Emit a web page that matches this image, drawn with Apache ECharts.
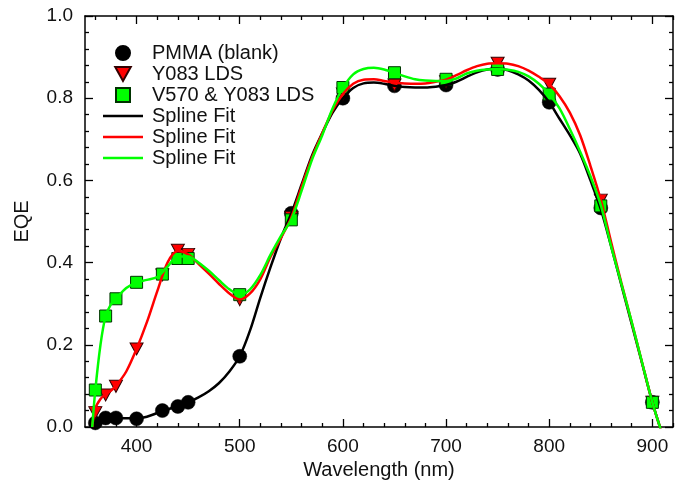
<!DOCTYPE html>
<html>
<head>
<meta charset="utf-8">
<script src="https://cdn.jsdelivr.net/npm/echarts@6/dist/echarts.min.js"></script>
<style>html,body{margin:0;padding:0;background:#fff}#c{width:683px;height:489px}</style>
</head>
<body>
<div id="c"></div>
<script>
// measured data points
const wavelengths = [360, 370, 380, 400, 425, 440, 450, 500, 550, 600, 650, 700, 750, 800, 850, 900];
const pmma = [0.01, 0.022, 0.022, 0.02, 0.04, 0.05, 0.06, 0.172, 0.52, 0.80, 0.83, 0.832, 0.87, 0.79, 0.533, 0.06];
const y083 = [0.035, 0.078, 0.099, 0.19, 0.37, 0.43, 0.42, 0.31, 0.51, 0.81, 0.832, 0.84, 0.885, 0.834, 0.552, 0.06];
const v570 = [0.09, 0.27, 0.312, 0.352, 0.372, 0.41, 0.41, 0.322, 0.504, 0.826, 0.862, 0.846, 0.87, 0.81, 0.538, 0.06];

// spline fit curves
const fitWl = [357, 360, 365, 370, 375, 380, 390, 400, 410, 420, 430, 440, 450, 460, 470, 480, 490, 500, 510, 520, 530, 540, 550, 560, 570, 580, 590, 600, 610, 620, 630, 640, 650, 660, 670, 680, 690, 700, 710, 720, 730, 740, 750, 760, 770, 780, 790, 800, 810, 820, 830, 840, 850, 860, 870, 880, 890, 900, 908];
const pmmaFit = [0, 0.01, 0.017, 0.021, 0.022, 0.022, 0.021, 0.021, 0.025, 0.034, 0.043, 0.051, 0.06, 0.072, 0.087, 0.107, 0.135, 0.172, 0.235, 0.315, 0.39, 0.46, 0.52, 0.59, 0.66, 0.715, 0.765, 0.80, 0.825, 0.836, 0.838, 0.835, 0.83, 0.827, 0.826, 0.826, 0.828, 0.832, 0.84, 0.852, 0.863, 0.87, 0.872, 0.868, 0.858, 0.843, 0.82, 0.79, 0.75, 0.71, 0.665, 0.60, 0.53, 0.44, 0.345, 0.25, 0.155, 0.06, -0.005];
const y083Fit = [0, 0.045, 0.068, 0.08, 0.088, 0.10, 0.135, 0.19, 0.255, 0.33, 0.40, 0.428, 0.42, 0.397, 0.373, 0.348, 0.325, 0.31, 0.325, 0.36, 0.415, 0.46, 0.51, 0.585, 0.655, 0.715, 0.77, 0.81, 0.835, 0.845, 0.846, 0.842, 0.838, 0.836, 0.835, 0.836, 0.84, 0.845, 0.856, 0.868, 0.878, 0.884, 0.885, 0.884, 0.878, 0.867, 0.852, 0.834, 0.805, 0.765, 0.71, 0.635, 0.553, 0.45, 0.35, 0.255, 0.157, 0.06, -0.005];
const v570Fit = [0, 0.09, 0.20, 0.27, 0.298, 0.312, 0.338, 0.352, 0.358, 0.365, 0.39, 0.415, 0.415, 0.40, 0.38, 0.357, 0.335, 0.322, 0.335, 0.37, 0.42, 0.465, 0.505, 0.575, 0.65, 0.71, 0.775, 0.825, 0.858, 0.871, 0.874, 0.87, 0.862, 0.853, 0.846, 0.843, 0.842, 0.842, 0.848, 0.86, 0.867, 0.87, 0.871, 0.869, 0.864, 0.853, 0.835, 0.81, 0.775, 0.725, 0.67, 0.61, 0.54, 0.44, 0.348, 0.255, 0.157, 0.06, -0.005];

const xMajor = [400, 500, 600, 700, 800, 900];
const xMinor = [360, 380, 420, 440, 460, 480, 520, 540, 560, 580, 620, 640, 660, 680, 720, 740, 760, 780, 820, 840, 860, 880, 920];
const names = ['PMMA (blank)', 'Y083 LDS', 'V570 & Y083 LDS', 'fit1', 'fit2', 'fit3'];

const FONT = '"Liberation Sans", Arial, sans-serif';
const pairs = (xs, ys) => xs.map((x, i) => [x, ys[i]]);
const TRI = 'path://M0,0L10,0L5,9Z';
const SQ = 'path://M0,0L10,0L10,10L0,10Z';
const LINE = 'path://M0,0L40,0L40,2.6L0,2.6Z';

function xAx(pos, ticks, len, showLine, showLabel) {
  return {
    type: 'value', position: pos, min: 350, max: 920,
    axisLine: {show: showLine, onZero: false, lineStyle: {color: '#000', width: 1.5}},
    axisTick: {show: true, inside: true, length: len, customValues: ticks, lineStyle: {color: '#000', width: 1.3}},
    axisLabel: {show: showLabel, customValues: xMajor, margin: 10, color: '#111', fontSize: 19, fontFamily: FONT},
    splitLine: {show: false}
  };
}
function yAx(pos, showLabel) {
  return {
    type: 'value', position: pos, min: 0, max: 1, interval: 0.2,
    axisLine: {show: true, onZero: false, lineStyle: {color: '#000', width: 1.5}},
    axisTick: {show: true, inside: true, length: 8, lineStyle: {color: '#000', width: 1.3}},
    minorTick: {show: true, splitNumber: 5, length: 4, lineStyle: {color: '#000', width: 1.3}},
    axisLabel: {show: showLabel, margin: 12, color: '#111', fontSize: 19, fontFamily: FONT, formatter: v => v.toFixed(1)},
    splitLine: {show: false}, minorSplitLine: {show: false}
  };
}

const xAxes = [
  Object.assign(xAx('bottom', xMajor, 8, true, true), {name: 'Wavelength (nm)', nameLocation: 'middle', nameGap: 33, nameTextStyle: {fontSize: 20, color: '#111', fontFamily: FONT}}),
  xAx('bottom', xMinor, 4, false, false),
  xAx('top', xMajor, 8, true, false),
  xAx('top', xMinor, 4, false, false)
];
const yAxes = [
  Object.assign(yAx('left', true), {name: 'EQE', nameLocation: 'middle', nameGap: 53, nameRotate: 90, nameTextStyle: {fontSize: 20, color: '#111', fontFamily: FONT}}),
  yAx('right', false)
];

const chart = echarts.init(document.getElementById('c'), null, {renderer: 'canvas'});
chart.setOption({
  animation: false,
  backgroundColor: '#fff',
  grid: {left: 85, right: 10, top: 16, bottom: 62},
  xAxis: xAxes,
  yAxis: yAxes,
  legend: {
    orient: 'vertical', left: 98, top: 38, itemWidth: 40, itemHeight: 14, itemGap: 1,
    symbolKeepAspect: true,
    data: [
      {name: names[0], icon: 'circle'},
      {name: names[1], icon: TRI},
      {name: names[2], icon: SQ},
      {name: names[3], icon: LINE},
      {name: names[4], icon: LINE},
      {name: names[5], icon: LINE}
    ],
    formatter: n => n.startsWith('fit') ? 'Spline Fit' : n,
    textStyle: {fontSize: 20, color: '#111', fontFamily: FONT, padding: [0, 0, 0, 4]}
  },
  series: [
    {name: names[0], type: 'scatter', data: pairs(wavelengths, pmma), symbol: 'circle', symbolSize: 14,
     itemStyle: {color: '#000', borderColor: '#000', borderWidth: 0.5, opacity: 1}, z: 2},
    {name: names[1], type: 'scatter', data: pairs(wavelengths, y083), symbol: TRI, symbolSize: [13, 12],
     itemStyle: {color: '#ff0000', borderColor: '#300', borderWidth: 1, opacity: 1}, z: 2},
    {name: names[2], type: 'scatter', data: pairs(wavelengths, v570), symbol: SQ, symbolSize: 12,
     itemStyle: {color: '#00ff00', borderColor: '#030', borderWidth: 1, opacity: 1}, z: 2},
    {name: names[3], type: 'line', data: pairs(fitWl, pmmaFit), smooth: 0.3, symbol: 'none', clip: true,
     lineStyle: {color: '#000', width: 2.5}, itemStyle: {color: '#000'}, z: 3},
    {name: names[4], type: 'line', data: pairs(fitWl, y083Fit), smooth: 0.3, symbol: 'none', clip: true,
     lineStyle: {color: '#ff0000', width: 2.5}, itemStyle: {color: '#ff0000'}, z: 3},
    {name: names[5], type: 'line', data: pairs(fitWl, v570Fit), smooth: 0.3, symbol: 'none', clip: true,
     lineStyle: {color: '#00ff00', width: 2.5}, itemStyle: {color: '#00ff00'}, z: 3}
  ]
});
</script>
</body>
</html>
